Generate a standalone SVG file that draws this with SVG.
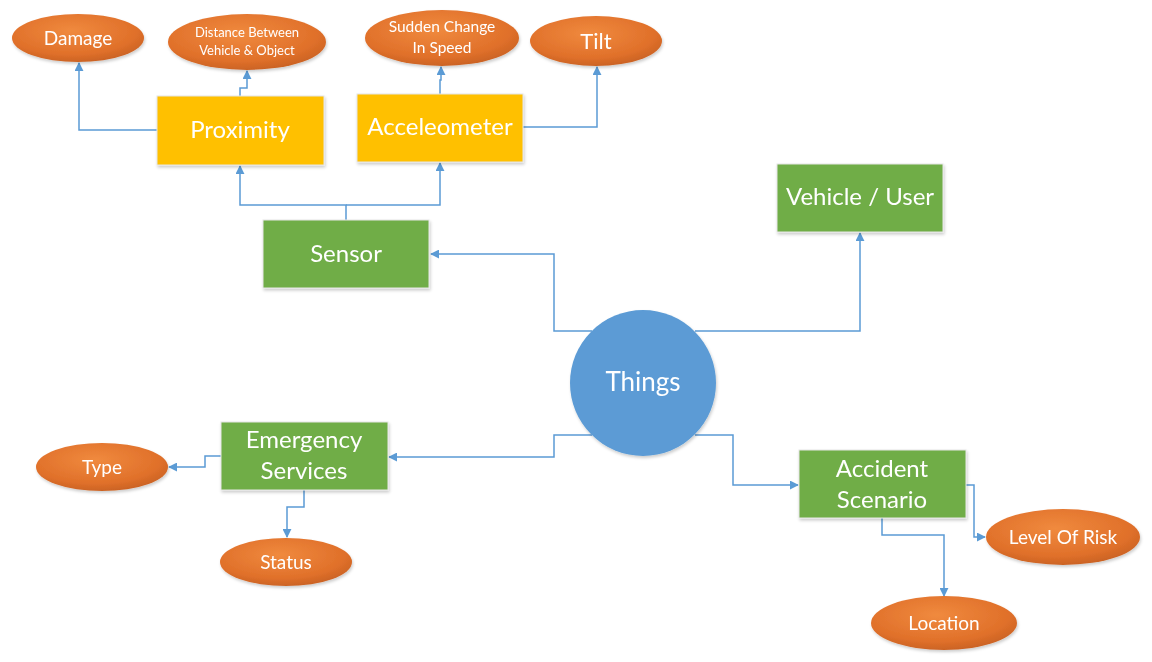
<svg xmlns="http://www.w3.org/2000/svg" width="1152" height="662" viewBox="0 0 1152 662">
<style>
.bt{font-family:Lato,"Open Sans","Liberation Sans",sans-serif;fill:#fff;text-anchor:middle;dominant-baseline:central}
.box{stroke:#e6e6e6;stroke-width:1}
.y{fill:#FFC000}
.g{fill:#70AD47}
.ell{fill:url(#og)}
.c{fill:none;stroke:#5B9BD5;stroke-width:1.5;marker-end:url(#ah)}
</style>
<defs>
<radialGradient id="og" cx="0.45" cy="0.35" r="0.7">
<stop offset="0" stop-color="#F08A3E"/>
<stop offset="0.7" stop-color="#E0702A"/>
<stop offset="1" stop-color="#C55F22"/>
</radialGradient>
<filter id="sh" x="-10%" y="-10%" width="130%" height="140%">
<feDropShadow dx="1" dy="2" stdDeviation="1.5" flood-color="#000" flood-opacity="0.2"/>
</filter>
<marker id="ah" viewBox="0 0 10 10" refX="9" refY="5" markerWidth="9" markerHeight="9" markerUnits="userSpaceOnUse" orient="auto">
<path d="M0,0 L10,5 L0,10 z" fill="#5B9BD5"/>
</marker>
</defs>
<rect width="1152" height="662" fill="#fff"/>
<g id="connectors">
<path class="c" d="M157,130 H79 V63"/>
<path class="c" d="M240,96 V88 H247 V71"/>
<path class="c" d="M440,94 V80 H441 V67"/>
<path class="c" d="M523,127 H597 V67"/>
<path class="c" d="M346,220 V205 H240 V166"/>
<path class="c" d="M346,205 H440 V163"/>
<path class="c" d="M592,331 H554 V254 H431"/>
<path class="c" d="M695,331 H860 V233"/>
<path class="c" d="M592,435 H554 V457 H389"/>
<path class="c" d="M695,435 H733 V485 H798"/>
<path class="c" d="M221,456 H205 V467 H169"/>
<path class="c" d="M304,490 V507 H287 V537"/>
<path class="c" d="M966,485 H974 V537 H985"/>
<path class="c" d="M882,518 V535 H944 V596"/>
</g>
<g id="things" filter="url(#sh)">
<circle cx="643" cy="383" r="73" fill="#5B9BD5"/>
<text class="bt" x="643" y="381" font-size="26">Things</text>
</g>
<g id="sensor" filter="url(#sh)">
<rect class="box g" x="263" y="220" width="166" height="68"/>
<text class="bt" x="346" y="252" font-size="24">Sensor</text>
</g>
<g id="vehicle" filter="url(#sh)">
<rect class="box g" x="777" y="164" width="166" height="68"/>
<text class="bt" x="860" y="195" font-size="24">Vehicle / User</text>
</g>
<g id="proximity" filter="url(#sh)">
<rect class="box y" x="157" y="96" width="167" height="69"/>
<text class="bt" x="240" y="128" font-size="24">Proximity</text>
</g>
<g id="accel" filter="url(#sh)">
<rect class="box y" x="357" y="94" width="166" height="68"/>
<text class="bt" x="440" y="125" font-size="24">Acceleometer</text>
</g>
<g id="emergency" filter="url(#sh)">
<rect class="box g" x="221" y="422" width="167" height="68"/>
<text class="bt" x="304" y="438" font-size="24">Emergency</text>
<text class="bt" x="304" y="469" font-size="24">Services</text>
</g>
<g id="accident" filter="url(#sh)">
<rect class="box g" x="799" y="450" width="167" height="68"/>
<text class="bt" x="882" y="467" font-size="24">Accident</text>
<text class="bt" x="882" y="498" font-size="24">Scenario</text>
</g>
<g id="damage" filter="url(#sh)">
<ellipse class="ell" cx="78" cy="38" rx="66" ry="24"/>
<text class="bt" x="78" y="37" font-size="19">Damage</text>
</g>
<g id="distance" filter="url(#sh)">
<ellipse class="ell" cx="247" cy="42" rx="79" ry="28"/>
<text class="bt" x="247" y="32" font-size="13">Distance Between</text>
<text class="bt" x="247" y="50" font-size="13">Vehicle &amp; Object</text>
</g>
<g id="sudden" filter="url(#sh)">
<ellipse class="ell" cx="442" cy="38" rx="77" ry="28"/>
<text class="bt" x="442" y="26" font-size="15.5">Sudden Change</text>
<text class="bt" x="442" y="47" font-size="15.5">In Speed</text>
</g>
<g id="tilt" filter="url(#sh)">
<ellipse class="ell" cx="596" cy="41" rx="66" ry="25"/>
<text class="bt" x="596" y="40" font-size="22">Tilt</text>
</g>
<g id="type" filter="url(#sh)">
<ellipse class="ell" cx="102" cy="467" rx="66" ry="24"/>
<text class="bt" x="102" y="466" font-size="19">Type</text>
</g>
<g id="status" filter="url(#sh)">
<ellipse class="ell" cx="286" cy="562" rx="66" ry="24"/>
<text class="bt" x="286" y="561" font-size="19">Status</text>
</g>
<g id="risk" filter="url(#sh)">
<ellipse class="ell" cx="1063" cy="537" rx="77" ry="28"/>
<text class="bt" x="1063" y="536" font-size="19">Level Of Risk</text>
</g>
<g id="location" filter="url(#sh)">
<ellipse class="ell" cx="944" cy="623" rx="73" ry="27"/>
<text class="bt" x="944" y="622" font-size="19">Location</text>
</g>
</svg>
